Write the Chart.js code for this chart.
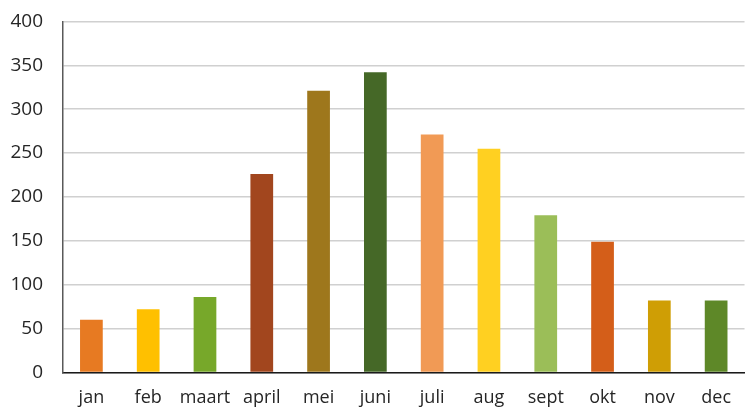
<!DOCTYPE html>
<html>
<head>
<meta charset="utf-8">
<script src="https://cdn.jsdelivr.net/npm/chart.js@4.4.1/dist/chart.umd.min.js"></script>
<style>
  html, body { margin: 0; padding: 0; background: #fff; overflow: hidden; }
  #wrap { position: relative; top: -10px; width: 746px; height: 434px; }
</style>
</head>
<body>
<div id="wrap"><canvas id="monthChart"></canvas></div>
<script>
  // Monthly values per category
  const months = ['jan', 'feb', 'maart', 'april', 'mei', 'juni', 'juli', 'aug', 'sept', 'okt', 'nov', 'dec'];
  const values = [60, 72, 86, 226, 321, 342, 271, 255, 179, 149, 82, 82];
  const barColors = ['#E77A22', '#FFC000', '#77A82A', '#A2461E', '#9E771C', '#456827',
                     '#F19A55', '#FFD021', '#9BBE58', '#D45E19', '#CF9E05', '#5E8828'];
  const yTicks = [0, 50, 100, 150, 200, 250, 300, 350, 400];

  const ctx = document.getElementById('monthChart').getContext('2d');
  const monthChart = new Chart(ctx, {
    type: 'bar',
    data: {
      labels: months,
      datasets: [{
        data: values,
        backgroundColor: barColors,
        barPercentage: 0.4,
        categoryPercentage: 1.0
      }]
    },
    options: {
      responsive: true,
      maintainAspectRatio: false,
      animation: false,
      layout: {
        padding: { top: 0, left: 0, right: -4, bottom: 0 }
      },
      plugins: {
        legend: { display: false },
        tooltip: { enabled: false }
      },
      scales: {
        x: {
          grid: { display: false, drawTicks: false },
          border: { color: '#1a1a1a', width: 1.5 },
          ticks: {
            color: '#262626',
            font: { family: 'Open Sans', size: 18 },
            padding: 15,
            maxRotation: 0,
            minRotation: 0,
            autoSkip: false
          }
        },
        y: {
          min: 0,
          max: 400,
          afterBuildTicks: (axis) => {
            axis.ticks = yTicks.map(v => ({ value: v }));
          },
          afterFit: (axis) => {
            axis.width = 63;
          },
          grid: { color: '#d0d0d0', lineWidth: 1.5, drawTicks: false },
          border: { color: '#595959', width: 1.5 },
          ticks: {
            color: '#262626',
            font: { family: 'Open Sans', size: 19 },
            padding: 20
          }
        }
      }
    }
  });
</script>
</body>
</html>
